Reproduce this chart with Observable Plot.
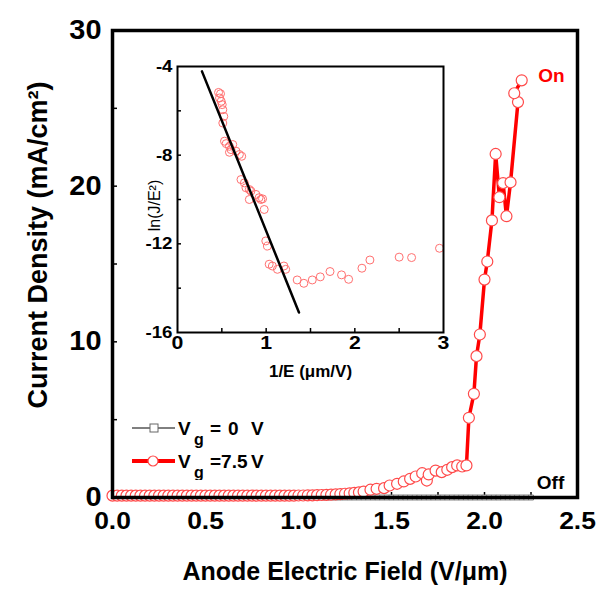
<!DOCTYPE html>
<html><head><meta charset="utf-8">
<script src="https://cdn.jsdelivr.net/npm/d3@7"></script>
<script src="https://cdn.jsdelivr.net/npm/@observablehq/plot@0.6"></script>
<style>
body{margin:0;background:#fff;}
#wrap{position:relative;width:602px;height:592px;font-family:Arial,"Liberation Sans",sans-serif;}
#wrap svg{position:absolute;}
</style></head><body><div id="wrap"></div>
<script>
// ---------- Main chart data ----------
const onX = [0,0.025,0.05,0.075,0.1,0.125,0.15,0.175,0.2,0.225,
  0.25,0.275,0.3,0.325,0.35,0.375,0.4,0.425,0.45,0.475,
  0.5,0.525,0.55,0.575,0.6,0.625,0.65,0.675,0.7,0.725,
  0.75,0.775,0.8,0.825,0.85,0.875,0.9,0.925,0.95,0.975,
  1,1.025,1.05,1.075,1.1,1.125,1.15,1.175,1.2,1.225,
  1.25,1.275,1.3,1.325,1.35,
  1.387,1.42,1.46,1.49,1.53,1.566,1.6,1.63,1.665,1.69,1.7,1.737,1.77,1.8,1.826,1.853,1.88,1.903,
  1.916,1.943,1.957,1.975,2.0,2.015,2.04,2.06,2.08,2.1,2.118,2.14,2.18,2.16,2.2];
const onY = [0.12,0.12,0.12,0.12,0.12,0.12,0.12,0.12,0.12,0.12,
  0.12,0.12,0.12,0.12,0.12,0.12,0.12,0.12,0.12,0.12,
  0.12,0.12,0.12,0.12,0.12,0.12,0.12,0.12,0.12,0.12,
  0.12,0.12,0.12,0.12,0.12,0.12,0.12,0.12,0.12,0.12,
  0.13,0.13,0.14,0.14,0.15,0.16,0.17,0.18,0.2,0.22,
  0.24,0.27,0.3,0.33,0.38,
  0.5,0.56,0.6,0.77,0.88,1.03,1.2,1.35,1.56,1.09,1.48,1.73,1.63,1.78,1.95,2.06,1.99,2.06,
  5.12,6.66,9.08,10.47,14.0,15.16,17.8,22.07,19.29,20.2,18.07,20.25,25.4,25.97,26.8];

const offX = [0,0.025,0.05,0.075,0.1,0.125,0.15,0.175,0.2,0.225,
  0.25,0.275,0.3,0.325,0.35,0.375,0.4,0.425,0.45,0.475,
  0.5,0.525,0.55,0.575,0.6,0.625,0.65,0.675,0.7,0.725,
  0.75,0.775,0.8,0.825,0.85,0.875,0.9,0.925,0.95,0.975,
  1,1.025,1.05,1.075,1.1,1.125,1.15,1.175,1.2,1.225,
  1.25,1.275,1.3,1.325,1.35,1.375,1.4,1.425,1.45,1.475,
  1.5,1.525,1.55,1.575,1.6,1.625,1.65,1.675,1.7,1.725,
  1.75,1.775,1.8,1.825,1.85,1.875,1.9,1.925,1.95,1.975,
  2,2.025,2.05,2.075,2.1,2.125,2.15,2.175,2.2,2.225,2.25];
const offY = [0,0,0,0,0,0,0,0,0,0,
  0,0,0,0,0,0,0,0,0,0,
  0,0,0,0,0,0,0,0,0,0,
  0,0,0,0,0,0,0,0,0,0,
  0,0,0,0,0,0,0,0,0,0,
  0,0,0,0,0,0,0,0,0,0,
  0,0,0,0,0,0,0,0,0,0,
  0,0,0,0,0,0,0,0,0,0,
  0,0,0,0,0,0,0,0,0,0,0];

const mainXTicks = [0, 0.5, 1, 1.5, 2, 2.5];
const mainYTicks = [0, 10, 20, 30];
const mainXMinor = [0.25, 0.5, 0.75, 1, 1.25, 1.5, 1.75, 2, 2.25];
const mainYMinor = [5, 10, 15, 20, 25];
const noteText = ["On", "Off"];
const noteX = [2.36, 2.355];
const noteY = [27.1, 0.96];
const noteColor = ["#ff0000", "#000000"];
const xTitle = "Anode Electric Field (V/\u03bcm)";
const yTitle = "Current Density (mA/cm\u00b2)";
const legendLabels = ["0", "7.5"];

// ---------- Inset data ----------
const fnX = [0.463,0.485,0.474,0.493,0.504,0.511,0.522,0.511,0.53,0.549,0.586,0.604,0.586,0.623,0.66,0.698,0.724,
  0.716,0.754,0.772,0.81,0.828,0.81,0.884,0.92,0.94,0.959,0.978,0.996,1.015,1.034,1.07,1.127,1.2,1.22,
  1.35,1.425,1.52,1.61,1.72,1.85,1.93,2.08,2.17,2.5,2.64,2.955];
const fnY = [-5.17,-5.23,-5.42,-5.57,-5.72,-5.95,-6.25,-6.55,-7.37,-7.48,-7.6,-7.75,-7.87,-7.52,-7.82,-7.97,-8.05,
  -9.1,-9.25,-9.47,-9.55,-9.62,-10.0,-9.77,-9.92,-10.0,-9.97,-10.45,-11.87,-12.1,-12.92,-13.0,-13.15,-13.0,-13.15,
  -13.63,-13.78,-13.63,-13.49,-13.25,-13.4,-13.6,-13.1,-12.73,-12.6,-12.62,-12.2];
const fitX = [0.276, 1.37];
const fitY = [-4.22, -15.1];
const insetXTicks = [0, 1, 2, 3];
const insetYTicks = [-4, -8, -12, -16];
const insetXMinor = [0.5, 1, 1.5, 2, 2.5];
const insetYMinor = [-6, -8, -10, -12, -14];
const insetXTitle = "1/E (\u03bcm/V)";
const insetYTitle = "ln(J/E\u00b2)";

// ---------- Build ----------
const FONT = 'Arial, "Liberation Sans", sans-serif';
const on = onX.map((x, i) => ({x, y: onY[i]}));
const off = offX.map((x, i) => ({x, y: offY[i]}));
const notes = noteText.map((t, i) => ({t, x: noteX[i], y: noteY[i], c: noteColor[i]}));
const fn = fnX.map((x, i) => ({x, y: fnY[i]}));
const fit = fitX.map((x, i) => ({x, y: fitY[i]}));

const wrap = document.getElementById("wrap");

// widen glyphs along the text direction (the reference lettering is wider than Arial)
function stretch(svg, label, factor, target) {
  svg.querySelectorAll(`g[aria-label="${label}"] text`).forEach(t => {
    const L = t.getComputedTextLength();
    if (!L) return;
    t.setAttribute("textLength", target != null ? target : L * factor);
    t.setAttribute("lengthAdjust", "spacingAndGlyphs");
  });
}

const main = Plot.plot({
  width: 602, height: 592,
  marginLeft: 112, marginRight: 25, marginTop: 30, marginBottom: 95,
  x: {domain: [0, 2.5], label: null},
  y: {domain: [0, 30], label: null},
  style: {fontFamily: FONT, fontWeight: "bold", fontSize: "24px", background: "transparent", color: "black", overflow: "visible"},
  marks: [
    Plot.axisX(mainXTicks, {tickSize: 0, tickPadding: 14, tickFormat: d3.format(".1f"), label: null, fontSize: 24}),
    Plot.axisY(mainYTicks, {tickSize: 0, tickPadding: 11, tickFormat: d => String(d), label: null, fontSize: 27}),
    Plot.axisX(mainXMinor, {tickSize: -5, tickFormat: () => "", strokeWidth: 1.5, label: null}),
    Plot.axisY(mainYMinor, {tickSize: -5, tickFormat: () => "", strokeWidth: 1.5, label: null}),
    Plot.line(off, {x: "x", y: "y", stroke: "black", strokeWidth: 1}),
    Plot.dot(off, {x: "x", y: "y", symbol: "square", r: 2.8, stroke: "#808080", fill: "white", strokeWidth: 1}),
    Plot.line(on, {x: "x", y: "y", stroke: "#ff0000", strokeWidth: 3.5}),
    Plot.dot(on, {x: "x", y: "y", r: 5.5, stroke: "#ff4a4a", fill: "white", strokeWidth: 1.2}),
    Plot.text(notes, {x: "x", y: "y", text: "t", fill: "c", fontSize: 19, ariaLabel: "notes"}),
    Plot.text([xTitle], {frameAnchor: "bottom", dy: 74, lineAnchor: "middle", fontSize: 25, ariaLabel: "xtitle"}),
    Plot.text([yTitle], {frameAnchor: "left", dx: -74, dy: -19, rotate: -90, textAnchor: "middle", lineAnchor: "middle", fontSize: 27, ariaLabel: "ytitle"}),
    Plot.frame({strokeWidth: 3.5})
  ]
});
main.style.left = "0px"; main.style.top = "0px";
wrap.appendChild(main);
stretch(main, "x-axis tick label", 1.1);
stretch(main, "y-axis tick label", 1.07);
stretch(main, "notes", 1.15);
stretch(main, "xtitle", 1, 383);
stretch(main, "ytitle", 1, 430);

const inset = Plot.plot({
  width: 310, height: 335,
  marginLeft: 37, marginRight: 7, marginTop: 11, marginBottom: 58,
  x: {domain: [0, 3], label: null},
  y: {domain: [-16, -4], label: null},
  style: {fontFamily: FONT, fontWeight: "bold", fontSize: "17px", background: "transparent", color: "black", overflow: "visible"},
  marks: [
    Plot.axisX(insetXTicks, {tickSize: 0, tickPadding: 3, tickFormat: d => String(d), label: null, fontSize: 19}),
    Plot.axisY(insetYTicks, {tickSize: 0, tickPadding: 5, tickFormat: d => String(d), label: null, fontSize: 17}),
    Plot.axisX(insetXMinor, {tickSize: -4, tickFormat: () => "", strokeWidth: 1.5, label: null}),
    Plot.axisY(insetYMinor, {tickSize: -4, tickFormat: () => "", strokeWidth: 1.5, label: null}),
    Plot.dot(fn, {x: "x", y: "y", r: 4, stroke: "#ff7070", fill: "none", strokeWidth: 1}),
    Plot.line(fit, {x: "x", y: "y", stroke: "black", strokeWidth: 2.5}),
    Plot.text([insetXTitle], {frameAnchor: "bottom", dy: 39, lineAnchor: "middle", fontSize: 17, ariaLabel: "ixtitle"}),
    Plot.text([insetYTitle], {frameAnchor: "left", dx: -23, dy: 6, rotate: -90, textAnchor: "middle", lineAnchor: "middle", fontSize: 16, fontWeight: "normal", ariaLabel: "iytitle"}),
    Plot.frame({strokeWidth: 2})
  ]
});
inset.style.left = "140px"; inset.style.top = "55px";
wrap.appendChild(inset);
stretch(inset, "x-axis tick label", 1.12);
stretch(inset, "y-axis tick label", 1.1);
stretch(inset, "ixtitle", 1, 95);

// ---------- Legend ----------
const ns = "http://www.w3.org/2000/svg";
const leg = document.createElementNS(ns, "svg");
leg.setAttribute("width", "170"); leg.setAttribute("height", "75");
leg.style.left = "125px"; leg.style.top = "405px";
leg.innerHTML = `
  <line x1="7" y1="23" x2="50" y2="23" stroke="black" stroke-width="1"/>
  <rect x="25" y="19" width="8" height="8" fill="white" stroke="#666" stroke-width="1"/>
  <text font-family='${FONT}' font-weight="bold" font-size="19" style="white-space:pre">
    <tspan x="53" y="30">V</tspan><tspan x="69" y="40" font-size="16">g</tspan><tspan x="85" y="30">=</tspan><tspan x="103" y="30">${legendLabels[0]}</tspan><tspan x="126" y="30">V</tspan>
  </text>
  <line x1="7" y1="56" x2="50" y2="56" stroke="#ff0000" stroke-width="4"/>
  <circle cx="28" cy="56" r="5" fill="white" stroke="#ff4a4a" stroke-width="1.2"/>
  <text font-family='${FONT}' font-weight="bold" font-size="19" style="white-space:pre">
    <tspan x="53" y="63">V</tspan><tspan x="69" y="73" font-size="16">g</tspan><tspan x="85" y="63">=${legendLabels[1]}</tspan><tspan x="126" y="63">V</tspan>
  </text>
`;
wrap.appendChild(leg);
</script></body></html>
